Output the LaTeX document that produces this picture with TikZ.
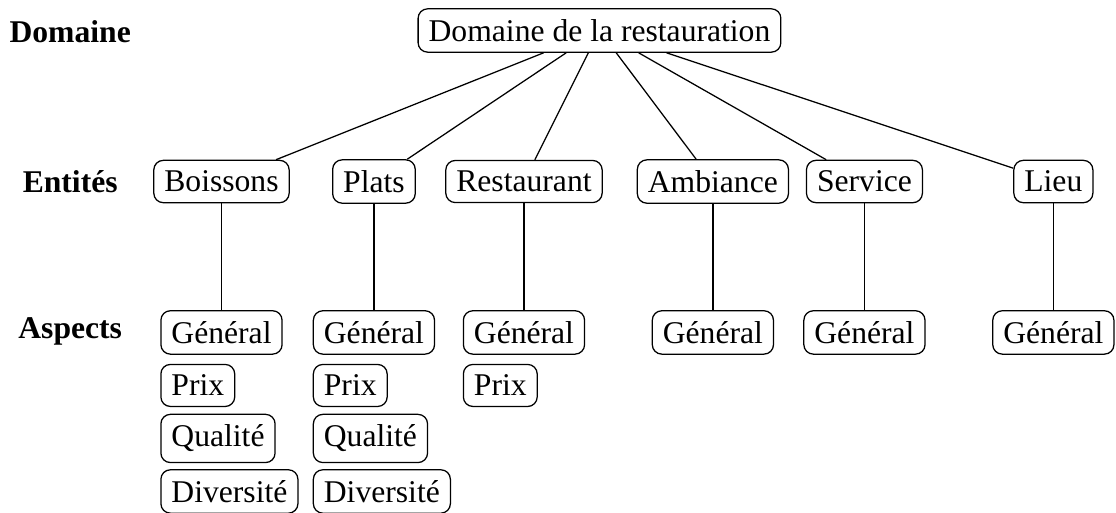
\documentclass[tikz,border=0pt]{standalone}
\usepackage{fontspec}
\setmainfont{Liberation Serif}
\usetikzlibrary{positioning}

\begin{document}
\begin{tikzpicture}
    	\tikzstyle{box}=[draw=black, rounded corners=3pt]
    	\tikzstyle{levellabel}=[font=\bfseries, anchor=base, inner sep=0pt]
    	\useasboundingbox (0,0) rectangle (12.40,-5.70);
    	
    	% Domaine
    	\node at (6.661, -0.339) [box] (root) {Domaine de la restauration};
    	
    	% Entites
    	\foreach \name/\txt/\x in {boissons/Boissons/2.461, plats/Plats/4.155, restaurant/Restaurant/5.822, ambiance/Ambiance/7.921, service/Service/9.605, lieu/Lieu/11.704}
    	\node at (\x, -2.017) [box] (\name) {\txt};
    	
    	\foreach \name in {boissons, plats, restaurant, ambiance, service, lieu}
    	\draw (root) -- (\name);
    	
    	% Aspects
    	\foreach \name/\x in {boissons/2.461, plats/4.155, restaurant/5.822, ambiance/7.921, service/9.605, lieu/11.704}
    	{
    	\node at (\x, -3.694) [box] (\name_gen) {Général};
    	\draw (\name) -- (\name_gen);
    	}
    	
    	\foreach \name in {boissons, plats, restaurant}
    	\node [box, below=0.589cm of \name_gen.west, anchor=west] (\name_prix) {Prix};
    	
    	\foreach \name in {boissons, plats}
    	{
    	\node [box, below=0.589cm of \name_prix.west, anchor=west] (\name_qual) {Qualité};
    	\node [box, below=0.589cm of \name_qual.west, anchor=west] (\name_div) {Diversité};
    	}
    	
    	% Niveaux
    	\node at (0.78, -0.467) [levellabel] (lab_dom) {Domaine};
    	\node at (0.78, -2.144) [levellabel] (lab_ent) {Entités};
    	\node at (0.78, -3.766) [levellabel] (lab_asp) {Aspects};

\end{tikzpicture}
\end{document}
